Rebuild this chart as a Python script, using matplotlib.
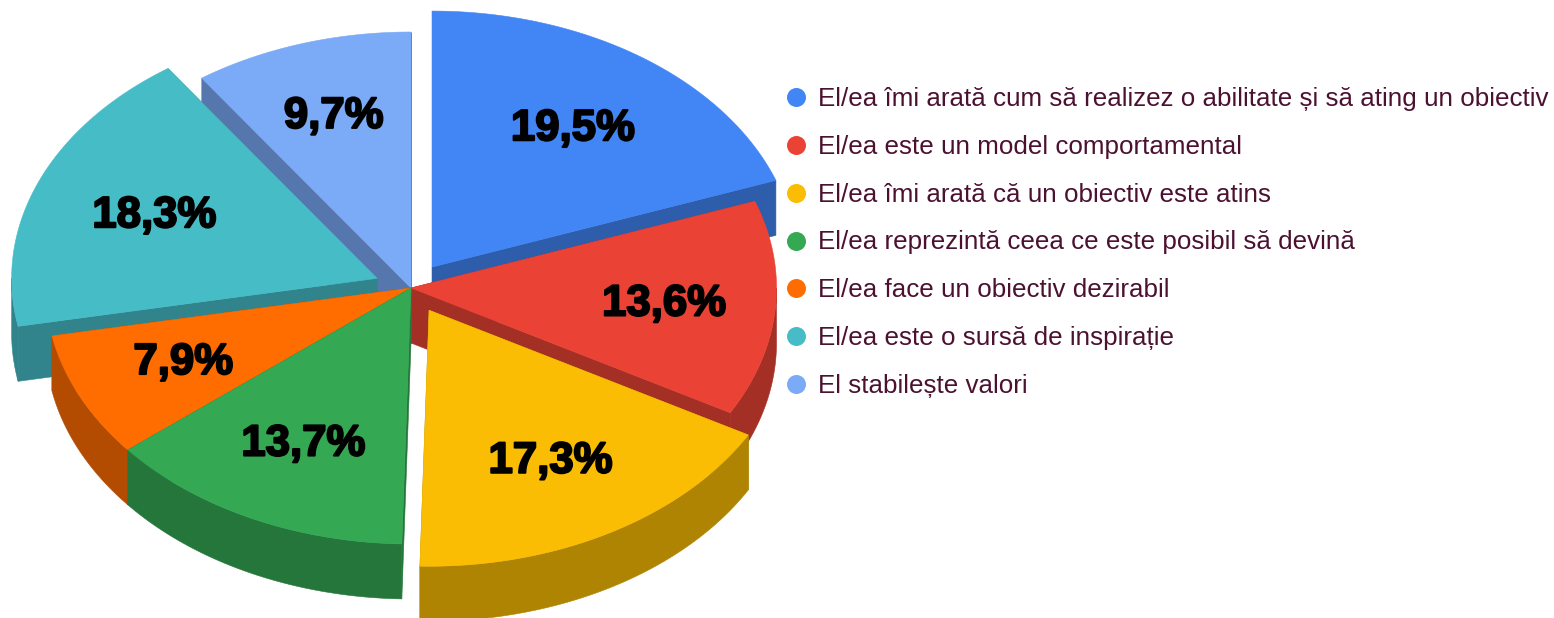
import numpy as np
import matplotlib
matplotlib.use('Agg')
import matplotlib.pyplot as plt
import matplotlib.patheffects as pe
from matplotlib.colors import to_rgb
from matplotlib.patches import Polygon

labels = ['El/ea îmi arată cum să realizez o abilitate și să ating un obiectiv',
          'El/ea este un model comportamental',
          'El/ea îmi arată că un obiectiv este atins',
          'El/ea reprezintă ceea ce este posibil să devină',
          'El/ea face un obiectiv dezirabil',
          'El/ea este o sursă de inspirație',
          'El stabilește valori']
values = [19.5, 13.6, 17.3, 13.7, 7.9, 18.3, 9.7]
colors = ['#4285F4', '#EA4335', '#FBBC04', '#34A853', '#FF6D01', '#46BDC6', '#7BAAF7']
explode = [0.1, 0, 0.1, 0, 0, 0.1, 0]

CX, CY = 411, 288
RX, RY = 365.5, 256
DEPTH = 55
LABEL_R = 0.67
# painter's order, back slices first
draw_order = [0, 6, 5, 1, 4, 3, 2]
label_nudge = {4: (-6, 2), 5: (4, 2), 6: (-4, -8), 0: (0, 2), 1: (9, 2), 2: (0, 2), 3: (0, 2)}

plt.rcParams['font.family'] = ['Liberation Sans', 'DejaVu Sans']


def shade(color, k=0.7):
    return tuple(c * k for c in to_rgb(color))


def point(cx, cy, deg, r=1.0):
    a = np.radians(deg)
    return cx + RX * r * np.sin(a), cy - RY * r * np.cos(a)


def arc(cx, cy, start, end):
    degs = np.linspace(start, end, 120)
    return np.column_stack(point(cx, cy, degs))


def add_poly(ax, pts, color):
    ax.add_patch(Polygon(pts, closed=True, facecolor=color, edgecolor=color, linewidth=0.4))


def side_face(cx, cy, deg):
    x, y = point(cx, cy, deg)
    return [(cx, cy), (x, y), (x, y + DEPTH), (cx, cy + DEPTH)]


def draw_slice(ax, i, start, end):
    mid = (start + end) / 2
    dx, dy = point(0, 0, mid, explode[i])
    cx, cy = CX + dx, CY + dy
    dark = shade(colors[i])

    add_poly(ax, side_face(cx, cy, start), dark)
    add_poly(ax, side_face(cx, cy, end), dark)

    # outer wall only where the rim faces the viewer
    w0, w1 = max(start, 90), min(end, 270)
    if w0 < w1:
        rim = arc(cx, cy, w0, w1)
        add_poly(ax, np.vstack([rim, (rim + [0, DEPTH])[::-1]]), dark)

    add_poly(ax, np.vstack([[(cx, cy)], arc(cx, cy, start, end)]), colors[i])
    return cx, cy, mid


fig = plt.figure(figsize=(15.54, 6.18), dpi=100)
ax = fig.add_axes([0, 0, 1, 1])
ax.set_xlim(0, 1554)
ax.set_ylim(618, 0)
ax.axis('off')

edges = np.concatenate([[0], np.cumsum(values)]) * 3.6

placed = {}
for i in draw_order:
    placed[i] = draw_slice(ax, i, edges[i], edges[i + 1])

for i in range(len(values)):
    cx, cy, mid = placed[i]
    x, y = point(cx, cy, mid, LABEL_R)
    nx, ny = label_nudge.get(i, (0, 0))
    txt = ax.text(x + nx, y + ny, f'{values[i]:.1f}%'.replace('.', ','), fontsize=31.5,
                  fontweight='bold', color='black', ha='center', va='center')
    txt.set_path_effects([pe.withStroke(linewidth=1.5, foreground='black')])

legend_y = np.linspace(97, 384, len(labels))
for i, label in enumerate(labels):
    ax.scatter([796], [legend_y[i]], s=187, color=colors[i], linewidths=0)
    ax.text(818, legend_y[i] + 2, label, fontsize=18.72, color='#4C1130', ha='left', va='center')

fig.savefig('out.png', dpi=100)
